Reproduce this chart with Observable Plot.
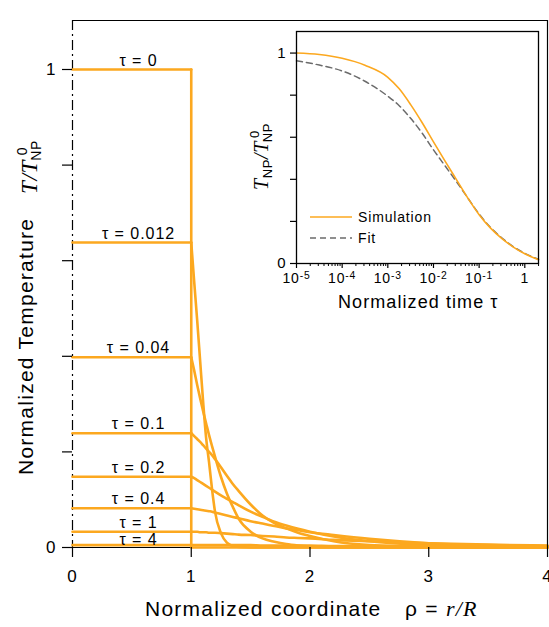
<!DOCTYPE html>
<html><head><meta charset="utf-8">
<script src="https://cdn.jsdelivr.net/npm/d3@7"></script>
<script src="https://cdn.jsdelivr.net/npm/@observablehq/plot@0.6"></script>
<style>
body{margin:0;background:#fff;}
#wrap{position:relative;width:549px;height:627px;overflow:hidden;background:#fff;}
#wrap svg{position:absolute;}
#wrap svg text{letter-spacing:0.06em;}
</style></head><body><div id="wrap"></div>
<script>
// ---------------- DATA ----------------
const tauLabels = ["0", "0.012", "0.04", "0.1", "0.2", "0.4", "1", "4"];
const centerT   = [1, 0.638, 0.398, 0.239, 0.148, 0.082, 0.033, 0.005];

const rhoOut = [1, 1.025, 1.05, 1.075, 1.1, 1.125, 1.15, 1.175, 1.2, 1.25, 1.3, 1.35, 1.4, 1.5, 1.6, 1.7, 1.8, 1.9, 2.0, 2.2, 2.5, 3.0, 3.5, 4.0];
const T_0012 = [0.638, 0.555, 0.475, 0.39, 0.305, 0.23, 0.178, 0.122, 0.075, 0.03, 0.01, 0.003, 0.001, 0, 0, 0, 0, 0, 0, 0, 0, 0, 0, 0];
const T_004  = [0.398, 0.37, 0.34, 0.312, 0.285, 0.26, 0.235, 0.212, 0.19, 0.148, 0.113, 0.085, 0.06, 0.033, 0.019, 0.012, 0.007, 0.004, 0.002, 0.0005, 0, 0, 0, 0];
const T_01   = [0.239, 0.233, 0.227, 0.221, 0.214, 0.207, 0.200, 0.193, 0.185, 0.168, 0.150, 0.133, 0.118, 0.090, 0.067, 0.051, 0.040, 0.031, 0.024, 0.013, 0.005, 0.001, 0, 0];
const T_02   = [0.148, 0.145, 0.141, 0.137, 0.133, 0.129, 0.125, 0.121, 0.117, 0.109, 0.102, 0.095, 0.088, 0.075, 0.064, 0.054, 0.046, 0.039, 0.033, 0.023, 0.013, 0.005, 0.002, 0.001];
const T_04   = [0.082, 0.081, 0.080, 0.079, 0.078, 0.077, 0.076, 0.075, 0.073, 0.070, 0.067, 0.064, 0.061, 0.055, 0.050, 0.045, 0.040, 0.036, 0.032, 0.026, 0.018, 0.009, 0.005, 0.003];
const T_1    = [0.033, 0.033, 0.033, 0.032, 0.032, 0.032, 0.031, 0.031, 0.031, 0.030, 0.029, 0.028, 0.027, 0.026, 0.024, 0.023, 0.021, 0.020, 0.019, 0.016, 0.013, 0.009, 0.006, 0.004];
const T_4    = [0.005, 0.005, 0.005, 0.005, 0.005, 0.005, 0.005, 0.005, 0.005, 0.005, 0.005, 0.005, 0.005, 0.005, 0.004, 0.004, 0.004, 0.004, 0.004, 0.003, 0.003, 0.003, 0.002, 0.002];
const stepRho = [1, 1, 4];   // tau = 0 outside the particle
const stepT   = [1, 0, 0];

const mainXTicks = [0, 1, 2, 3, 4];
const mainYTicks = [0, 0.2, 0.4, 0.6, 0.8, 1];
const mainYTickLabels = ["0", "", "", "", "", "1"];

const insetTau = [1e-5, 3.16e-5, 1e-4, 3.16e-4, 1e-3, 1.78e-3, 3.16e-3, 5.62e-3, 1e-2, 1.78e-2, 3.16e-2, 5.62e-2, 0.1, 0.178, 0.316, 0.562, 1, 2];
const simT = [1.0, 0.993, 0.975, 0.942, 0.885, 0.83, 0.755, 0.67, 0.578, 0.488, 0.40, 0.312, 0.232, 0.168, 0.118, 0.078, 0.046, 0.018];
const fitT = [0.963, 0.943, 0.915, 0.866, 0.795, 0.75, 0.69, 0.62, 0.54, 0.465, 0.39, 0.312, 0.235, 0.171, 0.121, 0.08, 0.048, 0.02];
const insetXTicks = [1e-5, 1e-4, 1e-3, 1e-2, 1e-1, 1];
const insetXTickLabels = ["10^-5", "10^-4", "10^-3", "10^-2", "10^-1", "1"];
const insetYTicks = [0, 0.2, 0.4, 0.6, 0.8, 1];
const insetYTickLabels = ["0", "", "", "", "", "1"];
const legendLabels = ["Simulation", "Fit"];

// ---------------- STYLE / LAYOUT ----------------
const SANS = "'Liberation Sans', Arial, Helvetica, sans-serif";
const SERIF = "'Liberation Serif', 'Times New Roman', serif";
const ORANGE = "#fca81f";
const GRAY = "#6b6b6b";
const LABEL_RHO = 0.556;
const Y_TOP = 1.1025;

// build tables
const profiles = [T_0012, T_004, T_01, T_02, T_04, T_1, T_4];
const interior = [];
tauLabels.forEach((t, i) => {
  interior.push({tau: t, rho: 0, T: centerT[i]});
  interior.push({tau: t, rho: 1, T: centerT[i]});
});
const exterior = [];
profiles.forEach((p, k) => p.forEach((v, j) => exterior.push({tau: tauLabels[k + 1], rho: rhoOut[j], T: v})));
const step = stepRho.map((r, j) => ({rho: r, T: stepT[j]}));
const labels = tauLabels.map((t, i) => ({tau: t, T: centerT[i]}));

const wrap = document.getElementById("wrap");

const main = Plot.plot({
  width: 549, height: 627,
  marginLeft: 72, marginRight: 2, marginTop: 20, marginBottom: 80,
  x: {domain: [0, 4]},
  y: {domain: [0, Y_TOP]},
  style: {fontFamily: SANS, background: "transparent", color: "black"},
  marks: [
    Plot.ruleY([0], {stroke: "black", strokeWidth: 1.2}),
    Plot.ruleX([0], {stroke: "black", strokeWidth: 1.2, strokeDasharray: "10,4,2,4"}),
    Plot.line(interior, {x: "rho", y: "T", z: "tau", stroke: ORANGE, strokeWidth: 2.6}),
    Plot.line(exterior, {x: "rho", y: "T", z: "tau", stroke: ORANGE, strokeWidth: 2.6, curve: "monotone-x"}),
    Plot.line(step, {x: "rho", y: "T", stroke: ORANGE, strokeWidth: 2.6}),
    Plot.ruleY([Y_TOP], {stroke: "black", strokeWidth: 1.2}),
    Plot.ruleX([4], {stroke: "black", strokeWidth: 1.2}),
    Plot.axisX({ticks: mainXTicks, tickSize: 10, tickPadding: 12, fontSize: 17, strokeWidth: 1.2, label: null, tickFormat: d => String(d)}),
    Plot.axisY({ticks: mainYTicks, tickSize: 10, tickPadding: 6, fontSize: 17, strokeWidth: 1.2, label: null,
      tickFormat: d => mainYTickLabels[mainYTicks.indexOf(d)]}),
    Plot.text(labels.slice(0, 7), {x: d => LABEL_RHO, y: "T", text: d => "τ = " + d.tau, dy: -9, fontSize: 16, fill: "black"}),
    Plot.text(labels.slice(7), {x: d => LABEL_RHO, y: "T", text: d => "τ = " + d.tau, dy: -5, fontSize: 16, fill: "black"})
  ]
});
main.style.left = "0px"; main.style.top = "0px";
wrap.appendChild(main);

// axis titles (rich text)
const sm = d3.select(main);
const startText = (sel) => sel.append("text").attr("text-anchor", "start").attr("font-family", SANS).attr("fill", "black");
startText(sm).attr("x", 145).attr("y", 616).attr("font-size", 21).text("Normalized coordinate");
const xl = startText(sm).attr("x", 405).attr("y", 616).attr("font-size", 21);
xl.append("tspan").text("ρ = ");
xl.append("tspan").attr("font-family", SERIF).attr("font-style", "italic").attr("font-size", 22).text("r/R");

startText(sm).attr("transform", "translate(33,475) rotate(-90)").attr("font-size", 21).text("Normalized Temperature");
const yl = startText(sm).attr("transform", "translate(37,194) rotate(-90)");
yl.append("tspan").attr("font-family", SERIF).attr("font-style", "italic").attr("font-size", 23).text("T/T");
yl.append("tspan").attr("font-size", 14).attr("dx", 5).attr("dy", -10).text("0");
yl.append("tspan").attr("font-size", 14).attr("dx", -14).attr("dy", 14).text("NP");

// ---------------- INSET ----------------
const simRows = insetTau.map((t, i) => ({t, v: simT[i]}));
const fitRows = insetTau.map((t, i) => ({t, v: fitT[i]}));
const minorTicks = [];
for (let k = -5; k <= 0; k++) for (let m = 2; m <= 9; m++) { const v = m * Math.pow(10, k); if (v <= 2.0) minorTicks.push(v); }

const inset = Plot.plot({
  width: 309, height: 295,
  marginLeft: 56, marginRight: 11, marginTop: 6, marginBottom: 57,
  x: {type: "log", domain: [1e-5, Math.pow(10, 0.3)]},
  y: {domain: [0, Y_TOP]},
  style: {fontFamily: SANS, background: "transparent", color: "black"},
  marks: [
    Plot.frame({fill: "white", stroke: null}),
    Plot.line(fitRows, {x: "t", y: "v", stroke: GRAY, strokeWidth: 1.5, strokeDasharray: "6,4", curve: "monotone-x"}),
    Plot.line(simRows, {x: "t", y: "v", stroke: ORANGE, strokeWidth: 1.6, curve: "monotone-x"}),
    Plot.frame({stroke: "black", strokeWidth: 1.3}),
    Plot.axisX({ticks: minorTicks, tickSize: 3, label: null, tickFormat: () => "", strokeWidth: 1}),
    Plot.axisX({ticks: insetXTicks, tickSize: 5, tickPadding: 5, fontSize: 14, label: null, strokeWidth: 1.2,
      tickFormat: d => insetXTickLabels[insetXTicks.indexOf(d)]}),
    Plot.axisY({ticks: insetYTicks, tickSize: 6, tickPadding: 4, fontSize: 15, label: null, strokeWidth: 1.2,
      tickFormat: d => insetYTickLabels[insetYTicks.indexOf(d)]})
  ]
});
inset.style.left = "240px"; inset.style.top = "25px";
wrap.appendChild(inset);

const si = d3.select(inset);
// superscripts on log tick labels
si.selectAll("text").each(function () {
  const s = this.textContent;
  if (s && s.includes("^")) {
    const [b, e] = s.split("^");
    const sel = d3.select(this);
    sel.text(b);
    sel.append("tspan").attr("dy", "-0.45em").attr("font-size", "0.74em").text(e);
  }
});
// x title
startText(si).attr("x", 98).attr("y", 283).attr("font-size", 18).text("Normalized time τ");
// y title T_NP / T^0_NP
const iyl = startText(si).attr("transform", "translate(28,165) rotate(-90)");
iyl.append("tspan").attr("font-family", SERIF).attr("font-style", "italic").attr("font-size", 20).text("T");
iyl.append("tspan").attr("font-size", 13).attr("dy", 4).text("NP");
iyl.append("tspan").attr("font-family", SERIF).attr("font-style", "italic").attr("font-size", 20).attr("dy", -4).text("/T");
iyl.append("tspan").attr("font-size", 13).attr("dx", 3).attr("dy", -9).text("0");
iyl.append("tspan").attr("font-size", 13).attr("dx", -12).attr("dy", 13).text("NP");
// legend
const legStroke = [{c: ORANGE, d: null, w: 1.6}, {c: GRAY, d: "6,4", w: 1.5}];
legendLabels.forEach((lab, i) => {
  const y = 192 + i * 21;
  const ln = si.append("line").attr("x1", 70).attr("x2", 112).attr("y1", y).attr("y2", y)
    .attr("stroke", legStroke[i].c).attr("stroke-width", legStroke[i].w);
  if (legStroke[i].d) ln.attr("stroke-dasharray", legStroke[i].d);
  startText(si).attr("x", 118).attr("y", y + 5).attr("font-size", 14).text(lab);
});
</script></body></html>
